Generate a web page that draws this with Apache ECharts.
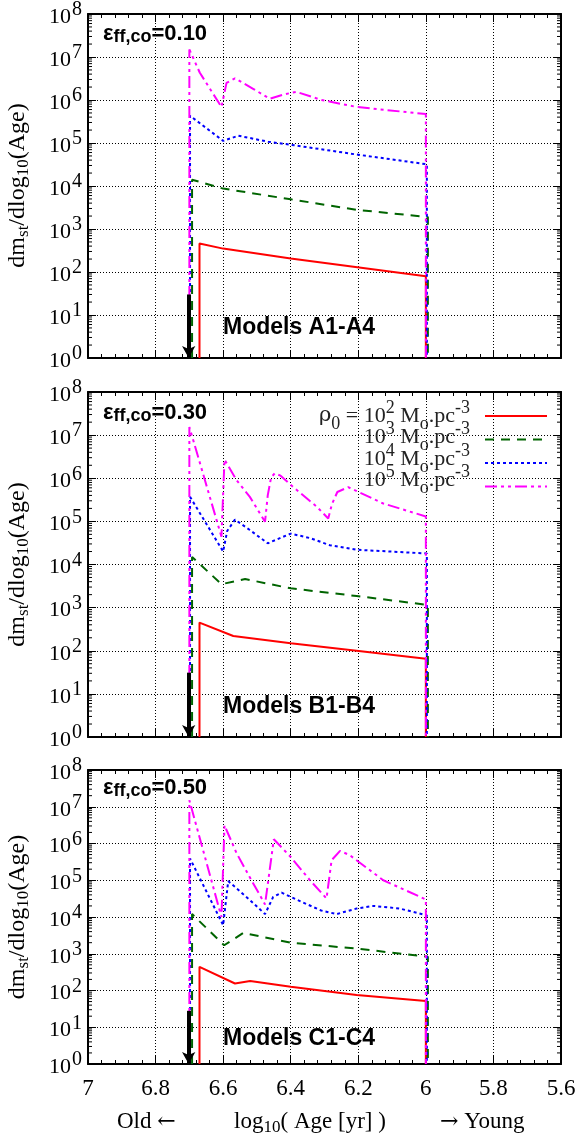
<!DOCTYPE html>
<html><head><meta charset="utf-8">
<script src="https://cdn.jsdelivr.net/npm/echarts@6/dist/echarts.min.js"></script>
<style>html,body{margin:0;padding:0;background:#fff}#c{width:582px;height:1139px}</style>
</head><body><div id="c"></div>
<script>
// ---------- data (x = log10 Age, y = dm_st/dlog10(Age)) ----------
// Panel A (eps = 0.10)
const A1 = [[6.67,1],[6.67,460],[6.60,350],[6.40,205],[6.0,80],[6.0,1]];
const A2 = [[6.692,1],[6.692,1.4e4],[6.60,8.7e3],[6.40,4.9e3],[6.205,2.8e3],[5.994,1.9e3],[5.994,1]];
const A3 = [[6.698,1],[6.698,4.3e5],[6.60,1.12e5],[6.555,1.48e5],[6.467,1.07e5],[6.40,9.1e4],[6.205,5.4e4],[5.997,3.2e4],[5.997,1]];
const A4 = [[6.70,1],[6.70,1.5e7],[6.669,4.3e6],[6.605,6.9e5],[6.59,2.5e6],[6.565,3.2e6],[6.51,1.8e6],[6.462,1.07e6],[6.42,1.35e6],[6.383,1.55e6],[6.309,1.0e6],[6.205,6.9e5],[6.0,4.7e5],[6.0,1]];
// Panel B (eps = 0.30)
const B1 = [[6.67,1],[6.67,450],[6.57,220],[6.40,150],[6.205,100],[6.0,65],[6.0,1]];
const B2 = [[6.692,1],[6.692,1.5e4],[6.605,3.5e3],[6.535,4.6e3],[6.40,2.8e3],[6.205,1.86e3],[5.994,1.15e3],[5.994,1]];
const B3 = [[6.698,1],[6.698,3.7e5],[6.60,2e4],[6.588,6e4],[6.565,1.1e5],[6.521,6.3e4],[6.468,3.1e4],[6.40,5.2e4],[6.343,4.1e4],[6.284,2.8e4],[6.205,2.2e4],[5.997,1.8e4],[5.997,1]];
const B4 = [[6.70,1],[6.70,1.55e7],[6.605,4.4e4],[6.596,2.7e6],[6.56,9e5],[6.521,3.7e5],[6.476,9.8e4],[6.468,4e5],[6.458,1.05e6],[6.447,1.3e6],[6.43,1.15e6],[6.393,6.3e5],[6.323,2.2e5],[6.289,1.17e5],[6.278,2.5e5],[6.262,4.8e5],[6.23,6.2e5],[6.126,2.6e5],[6.0,1.3e5],[6.0,1]];
// Panel C (eps = 0.50)
const C1 = [[6.67,1],[6.67,440],[6.565,155],[6.52,182],[6.40,126],[6.205,75],[6.0,52],[6.0,1]];
const C2 = [[6.692,1],[6.692,1.2e4],[6.597,1.7e3],[6.54,3.7e3],[6.40,2e3],[6.205,1.38e3],[5.994,830],[5.994,1]];
const C3 = [[6.698,1],[6.698,3.9e5],[6.60,6e3],[6.585,9.5e4],[6.521,2.9e4],[6.476,1.2e4],[6.452,3.5e4],[6.427,4.6e4],[6.38,2.9e4],[6.31,1.5e4],[6.264,1.2e4],[6.205,1.7e4],[6.155,2e4],[6.077,1.7e4],[5.997,1.1e4],[5.997,1]];
const C4 = [[6.70,1],[6.70,1.5e7],[6.605,1e4],[6.596,3.1e6],[6.56,5.4e5],[6.521,1.2e5],[6.476,2.2e4],[6.45,1.3e6],[6.40,4.3e5],[6.343,1e5],[6.294,3.2e4],[6.279,3.5e5],[6.254,6.3e5],[6.225,4.8e5],[6.126,1e5],[6.0,3e4],[6.0,1]];
// black arrows
const ARROW_A = [[6.702,30],[6.702,1]];
const ARROW_B = [[6.702,31],[6.702,1]];
const ARROW_C = [[6.702,28],[6.702,1]];
// text
const PANEL_EPS = ['0.10','0.30','0.50'];
const PANEL_MODELS = ['Models A1-A4','Models B1-B4','Models C1-C4'];
const LEGEND_EXP = ['2','3','4','5'];
const MINOR_MULT = [2,3,4,5,6,7,8,9];
const DECADES = [1,10,100,1e3,1e4,1e5,1e6,1e7];

// ---------- styles ----------
const SERIF = 'Liberation Serif';
const SANS = 'Liberation Sans';
const COLORS = ['#ff0000','#006400','#0000ff','#ff00ff'];
const DASHES = ['solid',[9,7],[3,3],[12,4,3,4,3,4]];
const GRIDS = [{top:13,height:345},{top:392,height:345},{top:770,height:294}];
const PANEL_SERIES = [[A1,A2,A3,A4],[B1,B2,B3,B4],[C1,C2,C3,C4]];
const PANEL_ARROWS = [ARROW_A,ARROW_B,ARROW_C];
const MINOR_Y = [];
DECADES.forEach(d => MINOR_MULT.forEach(m => MINOR_Y.push([7, d*m])));

const chart = echarts.init(document.getElementById('c'), null, {renderer:'canvas'});
const grid = [], xAxis = [], yAxis = [], series = [], graphic = [];
const yRich = {
  b:{fontFamily:SERIF,fontSize:22,lineHeight:28,verticalAlign:'bottom',color:'#000'},
  s:{fontFamily:SERIF,fontSize:20,lineHeight:20,verticalAlign:'top',padding:[0,0,14,1],color:'#000'}
};
GRIDS.forEach((g,i) => {
  grid.push({left:88,right:21,top:g.top,height:g.height});
  const xBase = {gridIndex:i,type:'value',min:5.6,max:7,interval:0.2,inverse:true,
    axisLine:{show:true,onZero:false,lineStyle:{color:'#000',width:2}},
    axisTick:{show:true,inside:true,length:8,lineStyle:{color:'#000',width:1}},
    minorTick:{show:true,splitNumber:5,length:4,lineStyle:{color:'#000',width:1}}};
  xAxis.push(Object.assign({}, xBase, {position:'bottom',
    axisLabel:{show:i===2,margin:13,fontFamily:SERIF,fontSize:23,color:'#000'},
    splitLine:{show:true,lineStyle:{color:'#000',type:[1,2],width:1}}}));
  xAxis.push(Object.assign({}, xBase, {position:'top',axisLabel:{show:false},splitLine:{show:false}}));
  const yBase = {gridIndex:i,type:'log',logBase:10,min:1,max:1e8,splitNumber:8,
    axisLine:{show:true,lineStyle:{color:'#000',width:2}},
    axisTick:{show:true,inside:true,length:8,lineStyle:{color:'#000',width:1}}};
  yAxis.push(Object.assign({}, yBase, {position:'left',
    axisLabel:{show:true,margin:6,formatter:v => '{b|10}{s|' + Math.round(Math.log10(v)) + '}',rich:yRich},
    splitLine:{show:true,lineStyle:{color:'#000',type:[1,2],width:1}}}));
  yAxis.push(Object.assign({}, yBase, {position:'right',axisLabel:{show:false},splitLine:{show:false}}));

  // minor log ticks on both sides
  series.push({type:'custom',xAxisIndex:2*i,yAxisIndex:2*i,data:MINOR_Y,silent:true,z:5,clip:false,
    renderItem:(params, api) => {
      const cs = params.coordSys;
      const y = api.coord([7, api.value(1)])[1];
      return {type:'group',children:[
        {type:'line',shape:{x1:cs.x,y1:y,x2:cs.x+4,y2:y},style:{stroke:'#000',lineWidth:1}},
        {type:'line',shape:{x1:cs.x+cs.width-4,y1:y,x2:cs.x+cs.width,y2:y},style:{stroke:'#000',lineWidth:1}}
      ]};
    }});
  PANEL_SERIES[i].forEach((d,k) => {
    series.push({type:'line',xAxisIndex:2*i,yAxisIndex:2*i,data:d,symbol:'none',showSymbol:false,
      lineStyle:{color:COLORS[k],width:2,type:DASHES[k]},z:3+k/10,silent:true});
  });
  const ar = PANEL_ARROWS[i];
  series.push({type:'line',xAxisIndex:2*i,yAxisIndex:2*i,data:ar,symbol:'none',showSymbol:false,
    lineStyle:{width:0,opacity:0},silent:true,z:6,
    markLine:{silent:true,animation:false,symbol:['none','arrow'],symbolSize:[10,12],
      label:{show:false},lineStyle:{color:'#000',width:4,type:'solid'},
      data:[[{coord:ar[0]},{coord:ar[1]}]]}});

  // panel labels
  const epsY = [34,413,788][i];
  graphic.push({type:'text',x:103,y:epsY,z:100,style:{
    text:'{e|ε}{s|ff,co}{e|=' + PANEL_EPS[i] + '}',align:'left',verticalAlign:'middle',
    rich:{e:{fontFamily:SANS,fontWeight:'bold',fontSize:22,lineHeight:24,verticalAlign:'middle',fill:'#000'},
          s:{fontFamily:SANS,fontWeight:'bold',fontSize:18,lineHeight:16,verticalAlign:'bottom',fill:'#000'}}}});
  const modY = [327.5,707,1038.5][i];
  graphic.push({type:'text',x:223,y:modY,z:100,style:{text:PANEL_MODELS[i],align:'left',verticalAlign:'middle',
    font:'bold 23px "Liberation Sans"',fill:'#000'}});
  // y axis title
  graphic.push({type:'text',x:18,y:g.top+g.height/2,rotation:Math.PI/2,z:100,style:{
    text:'{n|dm}{s|st}{n|/dlog}{s|10}{n|(Age)}',align:'center',verticalAlign:'middle',
    rich:{n:{fontFamily:SERIF,fontSize:24,lineHeight:28,verticalAlign:'middle',fill:'#000'},
          s:{fontFamily:SERIF,fontSize:17,lineHeight:16,verticalAlign:'bottom',fill:'#000'}}}});
});

// legend (panel B)
const legRich = {
  t:{fontFamily:SERIF,fontSize:22,lineHeight:34,verticalAlign:'middle',fill:'#222'},
  g:{fontFamily:'DejaVu Serif',fontSize:21,lineHeight:34,verticalAlign:'middle',fill:'#222'},
  p:{fontFamily:SERIF,fontSize:18,lineHeight:18,verticalAlign:'top',fill:'#222'},
  u:{fontFamily:SERIF,fontSize:18,lineHeight:22,verticalAlign:'bottom',fill:'#222'}
};
LEGEND_EXP.forEach((e,k) => {
  const ty = 416 + k*21.5;
  const sy = 416 + k*23.5;
  const pre = k === 0 ? '{g|ρ}{u|0}{t| = 10}' : '{t|10}';
  graphic.push({type:'text',x:470,y:ty,z:100,style:{text:pre + '{p|' + e + '}{t| M}{u|o}{t|.pc}{p|-3}',
    align:'right',verticalAlign:'middle',rich:legRich}});
  graphic.push({type:'line',z:100,shape:{x1:485,y1:sy,x2:547,y2:sy},
    style:{stroke:COLORS[k],lineWidth:2,lineDash:DASHES[k]==='solid'?null:DASHES[k]}});
});

// x axis title row
const xt = {fontFamily:SERIF,fontSize:23,lineHeight:28,verticalAlign:'middle',fill:'#000'};
const xa = {fontFamily:'DejaVu Serif',fontSize:22,lineHeight:28,verticalAlign:'middle',fill:'#000'};
graphic.push({type:'text',x:117,y:1122,style:{text:'{t|Old }{a|←}',align:'left',verticalAlign:'middle',rich:{t:xt,a:xa}}});
graphic.push({type:'text',x:310,y:1122,style:{text:'{t|log}{s|10}{t|( Age [yr] )}',align:'center',verticalAlign:'middle',
  rich:{t:xt,s:{fontFamily:SERIF,fontSize:17,lineHeight:16,verticalAlign:'bottom',fill:'#000'}}}});
graphic.push({type:'text',x:440,y:1122,style:{text:'{a|→}{t| Young}',align:'left',verticalAlign:'middle',rich:{t:xt,a:xa}}});

chart.setOption({animation:false,backgroundColor:'#fff',grid,xAxis,yAxis,series,graphic});
</script></body></html>
